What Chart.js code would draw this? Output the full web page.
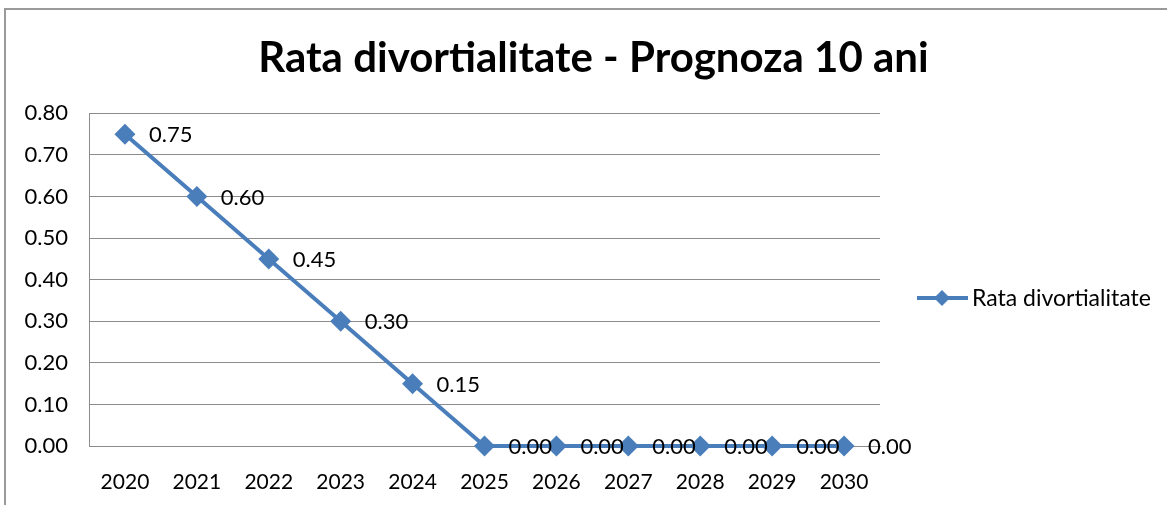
<!DOCTYPE html>
<html>
<head>
    <title>Rata divortialitate - Prognoza 10 ani</title>
    <meta charset="UTF-8">
    <style>
        body { margin: 0; padding: 0; background: #fff; overflow: hidden; }
        #frame { position: absolute; left: 4px; top: 8px; width: 1200px; height: 600px;
                 border-left: 2px solid #9a9a9a; border-top: 2px solid #9a9a9a; }
        #chart-container { position: absolute; left: 0; top: 0; width: 1167px; height: 505px; }
    </style>
</head>
<body>
    <div id="frame"></div>
    <div id="chart-container">
        <canvas id="rateChart"></canvas>
    </div>

    <script src="https://cdn.jsdelivr.net/npm/chart.js"></script>

    <script>
        const years = ['2020', '2021', '2022', '2023', '2024', '2025', '2026', '2027', '2028', '2029', '2030'];
        const rates = [0.75, 0.60, 0.45, 0.30, 0.15, 0.00, 0.00, 0.00, 0.00, 0.00, 0.00];
        const seriesName = 'Rata divortialitate';
        const lineColor = '#4a7ebb';

        // value labels to the right of each point
        const valueLabels = {
            id: 'valueLabels',
            afterDatasetsDraw(chart) {
                const ctx = chart.ctx;
                const meta = chart.getDatasetMeta(0);
                ctx.save();
                ctx.font = '22px Lato';
                ctx.fillStyle = '#000';
                ctx.textBaseline = 'middle';
                meta.data.forEach((pt, i) => {
                    ctx.fillText(rates[i].toFixed(2), pt.x + 24, pt.y + 1);
                });
                ctx.restore();
            }
        };

        // Excel-like legend: line with a diamond marker
        const sideLegend = {
            id: 'sideLegend',
            afterDraw(chart) {
                const ctx = chart.ctx;
                const ds = chart.data.datasets[0];
                const x0 = chart.chartArea.right + 37;
                const y = 298;
                ctx.save();
                ctx.strokeStyle = ds.borderColor;
                ctx.lineWidth = 4;
                ctx.beginPath();
                ctx.moveTo(x0, y);
                ctx.lineTo(x0 + 51, y);
                ctx.stroke();
                ctx.fillStyle = ds.borderColor;
                ctx.beginPath();
                ctx.moveTo(x0 + 25, y - 8);
                ctx.lineTo(x0 + 33, y);
                ctx.lineTo(x0 + 25, y + 8);
                ctx.lineTo(x0 + 17, y);
                ctx.closePath();
                ctx.fill();
                ctx.font = '23px Lato';
                ctx.fillStyle = '#000';
                ctx.textBaseline = 'middle';
                ctx.fillText(ds.label, x0 + 55, y + 1);
                ctx.restore();
            }
        };

        window.onload = function () {
            const ctx = document.getElementById('rateChart').getContext('2d');
            new Chart(ctx, {
                type: 'line',
                data: {
                    labels: years,
                    datasets: [{
                        label: seriesName,
                        data: rates,
                        borderColor: lineColor,
                        backgroundColor: lineColor,
                        borderWidth: 4,
                        fill: false,
                        tension: 0,
                        clip: false,
                        pointStyle: 'rectRot',
                        pointRadius: 10.5,
                        pointHoverRadius: 10.5,
                        pointBorderWidth: 0
                    }]
                },
                plugins: [valueLabels, sideLegend],
                options: {
                    responsive: true,
                    maintainAspectRatio: false,
                    animation: false,
                    layout: { padding: { left: 20, right: 0, top: 0, bottom: 0 } },
                    plugins: {
                        legend: { display: false },
                        tooltip: { enabled: false },
                        title: {
                            display: true,
                            text: 'Rata divortialitate - Prognoza 10 ani',
                            color: '#000',
                            font: { family: 'Lato', size: 42, weight: 'bold' },
                            padding: { top: 33, bottom: 30 }
                        }
                    },
                    scales: {
                        x: {
                            offset: true,
                            grid: { display: false, drawTicks: false },
                            border: { display: true, color: '#8c8c8c', width: 1 },
                            ticks: { color: '#000', font: { family: 'Lato', size: 21 }, padding: 24, maxRotation: 0, autoSkip: false },
                            afterFit(s) { s.height = 59; }
                        },
                        y: {
                            min: 0,
                            max: 0.8,
                            grid: { color: '#8c8c8c', lineWidth: 1, drawTicks: false },
                            border: { display: true, color: '#8c8c8c', width: 1 },
                            ticks: {
                                stepSize: 0.1,
                                color: '#000',
                                font: { family: 'Lato', size: 22 },
                                padding: 21,
                                callback: v => v.toFixed(2)
                            },
                            afterFit(s) { s.width = 69; }
                        },
                        spacer: {
                            type: 'linear',
                            position: 'right',
                            display: true,
                            grid: { display: false },
                            border: { display: false },
                            ticks: { display: false },
                            afterFit(s) { s.width = 287; }
                        }
                    }
                }
            });
        };
    </script>
</body>
</html>
